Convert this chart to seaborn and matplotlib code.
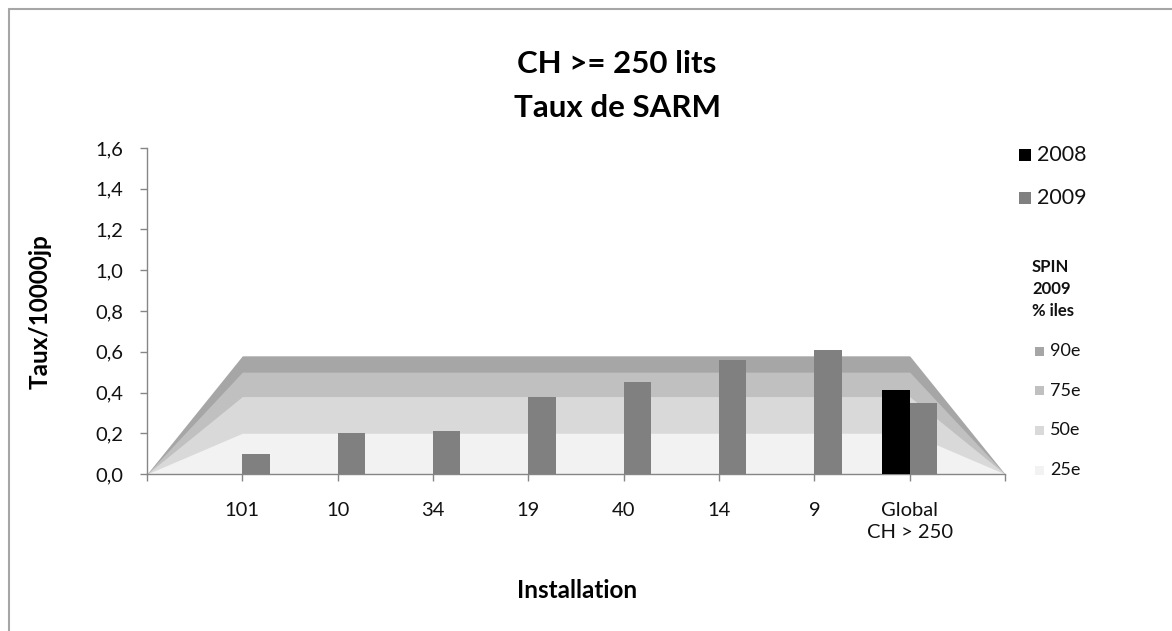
import matplotlib
matplotlib.use("Agg")
import matplotlib.pyplot as plt
import seaborn as sns
import numpy as np
import pandas as pd
from matplotlib.patches import Rectangle
from matplotlib.lines import Line2D
from matplotlib.ticker import FuncFormatter

# données
categories = ["101", "10", "34", "19", "40", "14", "9", "Global\nCH > 250"]
vals_2009 = [0.10, 0.20, 0.21, 0.38, 0.45, 0.56, 0.61, 0.35]
vals_2008 = [np.nan] * 7 + [0.41]
year_labels = ["2008", "2009"]
year_colors = ["#000000", "#808080"]
pct_labels = ["90e", "75e", "50e", "25e"]
pct_values = [0.58, 0.50, 0.38, 0.20]
pct_colors = ["#a6a6a6", "#c0c0c0", "#d9d9d9", "#f2f2f2"]

W, H = 1172, 631
txt = "#111111"

sns.set_theme(style="white")
plt.rcParams["font.family"] = ["Lato", "DejaVu Sans"]

fig = plt.figure(figsize=(W / 100, H / 100), dpi=100)
ax = fig.add_axes([147 / W, 1 - 474 / H, (1005 - 147) / W, (474 - 148) / H])

pos = np.arange(1, len(categories) + 1)

# bandes des percentiles SPIN (zone qui retombe a 0 aux deux bords)
band_x = np.concatenate([[0], pos, [len(categories) + 1]])
for v, c in zip(pct_values, pct_colors):
    band_y = np.concatenate([[0], np.full(len(pos), v), [0]])
    ax.fill_between(band_x, 0, band_y, color=c, lw=0, zorder=1)

df = pd.DataFrame({
    "pos": np.tile(pos, 2),
    "annee": np.repeat(year_labels, len(pos)),
    "taux": vals_2008 + vals_2009,
})
sns.barplot(data=df, x="pos", y="taux", hue="annee", hue_order=year_labels,
            palette=year_colors, native_scale=True, width=0.57, dodge=True,
            saturation=1, legend=False, ax=ax, zorder=3, linewidth=0)

ax.set_xlim(0, len(categories) + 1)
ax.set_ylim(0, 1.6)
ax.set_xticks(np.arange(0, len(categories) + 2))
ax.set_xticklabels([""] + categories + [""], fontsize=14.5, color=txt,
                   linespacing=1.35, va="top")
ax.set_yticks(np.arange(0, 1.61, 0.2))
ax.yaxis.set_major_formatter(FuncFormatter(lambda v, p: f"{v:.1f}".replace(".", ",")))
ax.tick_params(axis="y", labelsize=14.5, labelcolor=txt)
ax.tick_params(axis="both", direction="out", length=5, width=1, color="#868686",
               bottom=True, left=True)
ax.tick_params(axis="x", pad=15)
ax.tick_params(axis="y", pad=12)
ax.set_xlabel("")
ax.set_ylabel("")
for s in ["top", "right"]:
    ax.spines[s].set_visible(False)
for s in ["left", "bottom"]:
    ax.spines[s].set_color("#868686")
    ax.spines[s].set_linewidth(1)
ax.set_facecolor("none")

# titres
fig.text(617 / W, 1 - 64 / H, "CH >= 250 lits", ha="center", va="center",
         fontsize=22.5, fontweight="bold", color="black")
fig.text(617 / W, 1 - 108 / H, "Taux de SARM", ha="center", va="center",
         fontsize=22.5, fontweight="bold", color="black")
fig.text(40 / W, 1 - 312 / H, "Taux/10000jp", rotation=90, ha="center", va="center",
         fontsize=17.5, fontweight="bold", color="black")
fig.text(577 / W, 1 - 590 / H, "Installation", ha="center", va="center",
         fontsize=17.5, fontweight="bold", color="black")

# légende années
for i, (lab, c) in enumerate(zip(year_labels, year_colors)):
    yc = 155 + i * 43
    fig.add_artist(Rectangle((1019 / W, 1 - (yc + 6) / H), 12 / W, 12 / H,
                             transform=fig.transFigure, color=c, lw=0))
    fig.text(1037 / W, 1 - yc / H, lab, ha="left", va="center", fontsize=15.5,
             color=txt)

# légende percentiles
fig.text(1032 / W, 1 - 289 / H, "SPIN\n2009\n% iles", ha="left", va="center",
         fontsize=12, fontweight="bold", color=txt, linespacing=1.45)
for i, (lab, c) in enumerate(zip(pct_labels, pct_colors)):
    yc = 351 + i * 39.7
    fig.add_artist(Rectangle((1035 / W, 1 - (yc + 4.5) / H), 9 / W, 9 / H,
                             transform=fig.transFigure, color=c, lw=0))
    fig.text(1050 / W, 1 - yc / H, lab, ha="left", va="center", fontsize=13,
             color=txt)

# cadre du graphique
fig.add_artist(Line2D([9 / W, 1], [1 - 9 / H, 1 - 9 / H], transform=fig.transFigure,
                      color="#a6a6a6", lw=1.5))
fig.add_artist(Line2D([9 / W, 9 / W], [0, 1 - 9 / H], transform=fig.transFigure,
                      color="#a6a6a6", lw=1.5))

fig.savefig("out.png", dpi=100)
